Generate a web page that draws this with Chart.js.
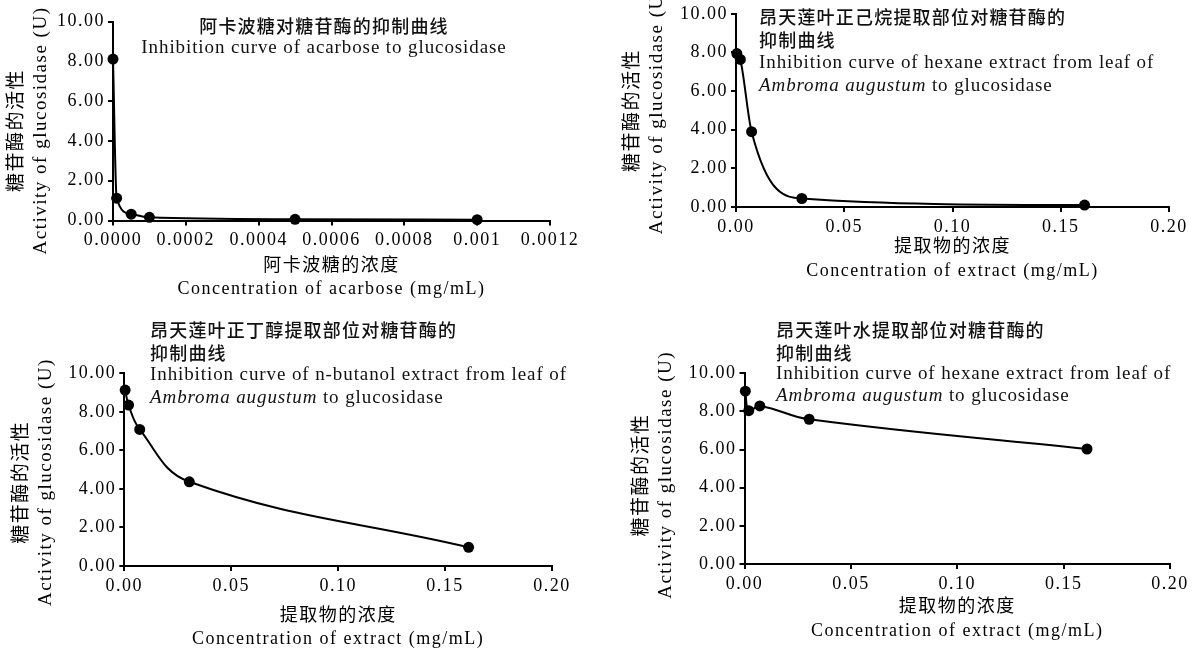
<!DOCTYPE html>
<html>
<head>
<meta charset="utf-8">
<script src="https://cdn.jsdelivr.net/npm/chart.js@4.4.0/dist/chart.umd.min.js"></script>
<style>
  body { margin: 0; width: 1197px; height: 651px; overflow: hidden; background: #fff; position: relative; }
  canvas { position: absolute; }
  .t { position: absolute; white-space: nowrap; line-height: 22px; color: #111; }
  .zh { font-family: 'Noto Sans CJK SC'; font-size: 18px; font-weight: 500; letter-spacing: 1.2px; }
  .en { font-family: 'Liberation Serif'; font-size: 19px; letter-spacing: 0.9px; }
  .mid { transform: translateX(-50%); }
</style>
</head>
<body>
<canvas id="c1" width="598" height="300" style="left:0;top:0"></canvas>
<canvas id="c2" width="597" height="300" style="left:600px;top:0"></canvas>
<canvas id="c3" width="600" height="370" style="left:0;top:300px"></canvas>
<canvas id="c4" width="597" height="370" style="left:600px;top:300px"></canvas>

<div class="t zh mid" style="left:324px;top:14px">阿卡波糖对糖苷酶的抑制曲线</div>
<div class="t en mid" style="left:324px;top:36px">Inhibition curve of acarbose to glucosidase</div>

<div class="t zh" style="left:759px;top:5px">昂天莲叶正己烷提取部位对糖苷酶的</div>
<div class="t zh" style="left:759px;top:28px">抑制曲线</div>
<div class="t en" style="left:759px;top:51px">Inhibition curve of hexane extract from leaf of</div>
<div class="t en" style="left:759px;top:74px"><i>Ambroma augustum</i> to glucosidase</div>

<div class="t zh" style="left:150px;top:318px">昂天莲叶正丁醇提取部位对糖苷酶的</div>
<div class="t zh" style="left:150px;top:341px">抑制曲线</div>
<div class="t en" style="left:150px;top:363px">Inhibition curve of n-butanol extract from leaf of</div>
<div class="t en" style="left:150px;top:386px"><i>Ambroma augustum</i> to glucosidase</div>

<div class="t zh" style="left:776px;top:318px">昂天莲叶水提取部位对糖苷酶的</div>
<div class="t zh" style="left:776px;top:341px">抑制曲线</div>
<div class="t en" style="left:776px;top:362px">Inhibition curve of hexane extract from leaf of</div>
<div class="t en" style="left:776px;top:384px"><i>Ambroma augustum</i> to glucosidase</div>

<script>
// concentrations (mg/mL) and enzyme activity (U)
const acarboseConc = [0, 0.00001, 0.00005, 0.0001, 0.0005, 0.001];
const acarboseActivity = [8.12, 1.12, 0.32, 0.16, 0.06, 0.04];

const extractConc = [0.0004, 0.002, 0.0072, 0.0304, 0.161];
const hexaneActivity = [7.94, 7.64, 3.90, 0.44, 0.10];
const butanolActivity = [9.13, 8.35, 7.09, 4.37, 0.97];
const waterActivity = [9.06, 8.04, 8.29, 7.59, 6.03];

const yTicks = [0, 2, 4, 6, 8, 10];
const yTickLabels = ["0.00", "2.00", "4.00", "6.00", "8.00", "10.00"];
const acarboseTicks = [0, 0.0002, 0.0004, 0.0006, 0.0008, 0.001, 0.0012];
const acarboseTickLabels = ["0.0000", "0.0002", "0.0004", "0.0006", "0.0008", "0.001", "0.0012"];
const extractTicks = [0, 0.05, 0.1, 0.15, 0.2];
const extractTickLabels = ["0.00", "0.05", "0.10", "0.15", "0.20"];

const yTitle = ["糖苷酶的活性", "Activity of glucosidase (U)"];
const acarboseXTitle = ["阿卡波糖的浓度", "Concentration of acarbose (mg/mL)"];
const extractXTitle = ["提取物的浓度", "Concentration of extract (mg/mL)"];

Chart.defaults.font.family = "'Liberation Serif', 'Noto Sans CJK SC'";
Chart.defaults.color = "#000";

const spacing = {
  id: "spacing",
  beforeLayout(c) { c.ctx.letterSpacing = "1.5px"; },
  beforeDraw(c) { c.ctx.letterSpacing = "1.5px"; }
};

function drawPanel(id, conc, activity, xTicks, xLabels, xTitle, box) {
  const cv = document.getElementById(id);
  const axisGrid = { drawOnChartArea: false, color: "#000", lineWidth: 2, tickLength: 5 };
  const axisBorder = { color: "#000", width: 2 };
  // trailing blanks push the rotated title a little lower, as in the figure
  const pad = " ".repeat(box.yShift);

  new Chart(cv, {
    type: "line",
    data: {
      datasets: [{
        data: conc.map((x, i) => ({ x: x, y: activity[i] })),
        borderColor: "#000",
        backgroundColor: "#000",
        borderWidth: 2,
        pointRadius: 5.5,
        pointHoverRadius: 5.5,
        pointBorderWidth: 0,
        cubicInterpolationMode: box.monotone ? "monotone" : "default",
        tension: 0.4,
        clip: false
      }]
    },
    options: {
      responsive: false,
      animation: false,
      events: [],
      layout: { padding: { left: 0, top: box.top, right: cv.width - box.right, bottom: 0 } },
      plugins: { legend: { display: false }, tooltip: { enabled: false } },
      scales: {
        x: {
          type: "linear",
          min: 0,
          max: xTicks[xTicks.length - 1],
          afterBuildTicks: s => { s.ticks = xTicks.map(v => ({ value: v })); },
          afterFit: s => { s.height = cv.height - box.bottom; },
          ticks: { callback: (v, i) => xLabels[i], maxRotation: 0, autoSkip: false, padding: 4, font: { size: 18 } },
          grid: axisGrid,
          border: axisBorder,
          title: { display: true, text: xTitle, font: { size: 18, lineHeight: 1.3 }, padding: { top: 0, bottom: box.xPad } }
        },
        y: {
          min: 0,
          max: 10,
          afterBuildTicks: s => { s.ticks = yTicks.map(v => ({ value: v })); },
          afterFit: s => { s.width = box.left; },
          ticks: { callback: (v, i) => yTickLabels[i], padding: 3, font: { size: 18 } },
          grid: axisGrid,
          border: axisBorder,
          title: { display: true, text: yTitle.map(t => t + pad), font: { size: 19, lineHeight: 1.25 }, padding: { top: box.yPad, bottom: 0 } }
        }
      }
    },
    plugins: [spacing]
  });
}

drawPanel("c1", acarboseConc, acarboseActivity, acarboseTicks, acarboseTickLabels, acarboseXTitle,
  { left: 113, right: 550, top: 21.7, bottom: 220.5, xPad: -1, yPad: 5.5, yShift: 3, monotone: true });
drawPanel("c2", extractConc, hexaneActivity, extractTicks, extractTickLabels, extractXTitle,
  { left: 136, right: 569, top: 13.3, bottom: 207, xPad: 17.3, yPad: 21, yShift: 0, monotone: true });
drawPanel("c3", extractConc, butanolActivity, extractTicks, extractTickLabels, extractXTitle,
  { left: 124.3, right: 552, top: 73.3, bottom: 266, xPad: 19, yPad: 10, yShift: 4, monotone: false });
drawPanel("c4", extractConc, waterActivity, extractTicks, extractTickLabels, extractXTitle,
  { left: 144.5, right: 570, top: 73.3, bottom: 264, xPad: 27.5, yPad: 30.5, yShift: 2, monotone: false });
</script>
</body>
</html>
